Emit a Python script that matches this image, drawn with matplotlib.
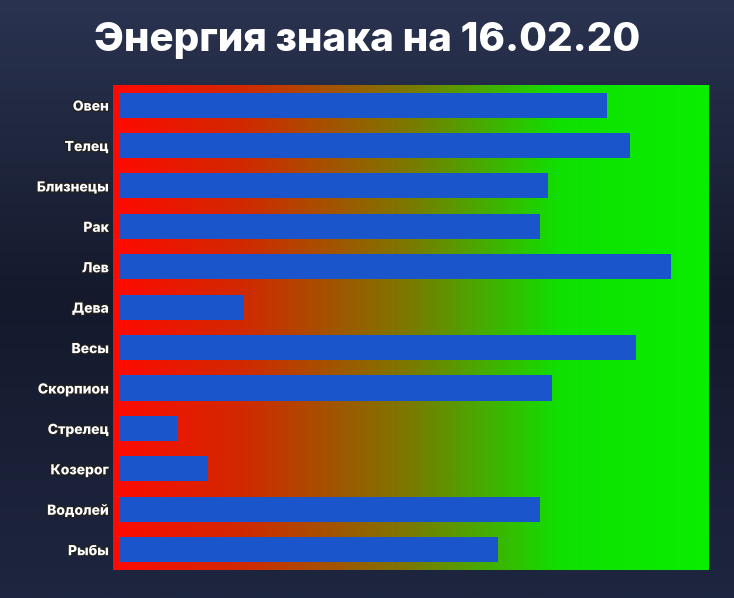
import matplotlib
matplotlib.use("Agg")
import matplotlib.pyplot as plt
import matplotlib.patheffects as pe
from matplotlib.colors import LinearSegmentedColormap
import numpy as np

signs = ["Овен", "Телец", "Близнецы", "Рак", "Лев", "Дева", "Весы", "Скорпион",
         "Стрелец", "Козерог", "Водолей", "Рыбы"]
energy = [81.7, 85.7, 71.8, 70.6, 92.6, 20.8, 86.7, 72.6, 9.7, 14.8, 70.6, 63.5]
title = "Энергия знака на 16.02.20"

fig = plt.figure(figsize=(7.34, 5.98), dpi=100)
fig.patch.set_facecolor("#1b2237")
bg = fig.add_axes([0, 0, 1, 1], zorder=-10)
bg.imshow(np.linspace(0, 1, 256).reshape(-1, 1) * np.ones((1, 2)),
          cmap=LinearSegmentedColormap.from_list("bg", ["#2a3350", "#141a2c", "#1e2640"]),
          aspect="auto", extent=[0, 1, 0, 1])
bg.axis("off")

ax = fig.add_axes([0.154, 0.047, 0.811, 0.811])
cmap = LinearSegmentedColormap.from_list(
    "rg", [(0, "#ff0a00"), (0.22, "#d02a00"), (0.5, "#7a7a00"), (0.75, "#10e000"), (1, "#08ee00")])
xmin, xmax = -1.2, 98.8
ax.imshow(np.linspace(0, 1, 512).reshape(1, -1), cmap=cmap, aspect="auto",
          extent=[xmin, xmax, len(signs) - 0.5, -0.5], zorder=0)
y = np.arange(len(signs))
ax.barh(y, energy, height=0.62, color="#1a55cc", zorder=2)
ax.set_xlim(xmin, xmax)
ax.set_ylim(len(signs) - 0.5, -0.5)
ax.set_xticks([])
ax.set_yticks(y)
ax.set_yticklabels(signs)
ax.tick_params(axis="y", length=0, pad=3)
for lab in ax.get_yticklabels():
    lab.set_color("white")
    lab.set_fontweight("heavy")
    lab.set_fontsize(10)
    lab.set_family(["Inter", "DejaVu Sans"])
    lab.set_path_effects([pe.withStroke(linewidth=2, foreground="#222222")])
for s in ax.spines.values():
    s.set_visible(False)

fig.text(0.5, 0.933, title, ha="center", va="center", color="white",
         fontsize=29, fontweight="heavy", family=["Inter", "DejaVu Sans"])
fig.savefig("out.png", dpi=100, facecolor=fig.get_facecolor())
